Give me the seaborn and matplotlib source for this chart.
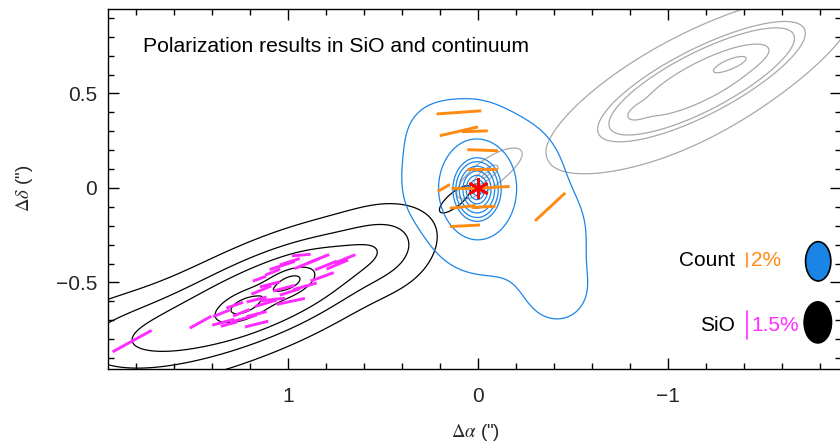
import numpy as np
import pandas as pd
import matplotlib
matplotlib.use("Agg")
import matplotlib.pyplot as plt
import seaborn as sns
from matplotlib.patches import Ellipse
from matplotlib.ticker import MultipleLocator, FixedLocator

# ---------------- data ----------------
# continuum (blue): compact core
core_x = [0.005]
core_y = [-0.01]
core_sa = [0.10]
core_sb = [0.133]
core_pa = [0.0]
core_amp = [1.0]
# continuum extended envelope (blob centres)
env_x = [0.21, 0.02, -0.15, 0.21, 0.21, 0.02, -0.20, 0.05, -0.12, -0.30, -0.36, -0.42,
         -0.25, -0.30, -0.38]
env_y = [0.29, 0.29, 0.20, 0.10, -0.05, 0.08, 0.02, -0.22, -0.28, -0.20, -0.38, -0.55,
         0.12, -0.07, -0.22]
env_sigma = 0.12
env_amp = 0.02
cont_levels = [0.0105, 0.17, 0.49, 0.58, 0.69, 0.80, 0.89, 0.96, 1.01]

# SiO lobe (black contours)
sio_x = [1.24, 0.98, 1.10, 1.95, 0.45, 1.10]
sio_y = [-0.63, -0.49, -0.56, -0.80, -0.32, -0.56]
sio_sa = [0.10, 0.10, 0.50, 0.35, 0.16, 0.70]
sio_sb = [0.05, 0.05, 0.16, 0.17, 0.16, 0.30]
sio_pa = [-23, -23, -23, -10, 0, -23]
sio_amp = [0.30, 0.30, 0.75, 0.30, 0.15, 0.12]
sio_levels = [0.215, 0.405, 0.566, 0.90, 1.09]
# compact SiO knot next to the star
knot_x = [0.12]
knot_y = [-0.06]
knot_sa = [0.085]
knot_sb = [0.03]
knot_pa = [-40]
knot_amp = [0.45]
knot_levels = [0.215]

# SiO second lobe (grey contours)
red_x = [-0.84, -1.36, -1.20, -1.10, -0.035]
red_y = [0.40, 0.67, 0.58, 0.48, 0.065]
red_sa = [0.05, 0.10, 0.50, 0.65, 0.13]
red_sb = [0.025, 0.03, 0.13, 0.30, 0.048]
red_pa = [-27, -20, -27, -30, -38]
red_amp = [0.15, 0.20, 0.70, 0.25, 0.50]
red_levels = [0.234, 0.493, 0.562, 0.757, 1.009]

# continuum polarization vectors (orange): centre, fraction (%), PA (deg)
cpol_x = [0.10, 0.10, 0.016, -0.025, -0.02, 0.18, 0.09, -0.02, -0.11, 0.08, -0.03, 0.068, -0.38]
cpol_y = [0.40, 0.30, 0.30, 0.20, 0.10, 0.0, 0.0, 0.0, 0.005, -0.10, -0.10, -0.20, -0.10]
cpol_p = [6.4, 5.6, 3.7, 4.4, 4.3, 2.0, 2.9, 2.9, 3.1, 3.7, 3.4, 4.3, 5.9]
cpol_pa = [94, 103, 92, 88, 90, 120, 90, 92, 93, 96, 93, 93, 133]
cpol_scale = 0.0368   # arcsec per %

# SiO polarization vectors (magenta)
spol_x = [1.82, 1.46, 1.34, 1.31, 1.28, 1.23, 1.165, 1.117, 1.08, 0.985, 1.14, 1.02,
          1.15, 1.08, 1.03, 0.99, 0.90, 0.84, 0.80, 0.74, 0.82, 0.91, 1.165, 1.245,
          1.095, 0.99, 1.165, 1.35, 0.70, 0.93]
spol_y = [-0.81, -0.71, -0.71, -0.72, -0.62, -0.69, -0.72, -0.61, -0.59, -0.60, -0.54, -0.53,
          -0.48, -0.445, -0.41, -0.39, -0.40, -0.375, -0.41, -0.405, -0.47, -0.52, -0.59, -0.66,
          -0.51, -0.55, -0.667, -0.663, -0.375, -0.355]
spol_p = [2.36, 1.31, 1.21, 0.90, 0.93, 1.38, 1.27, 1.20, 1.32, 1.53, 1.14, 1.19,
          0.75, 0.85, 1.40, 1.11, 1.43, 1.24, 1.24, 1.24, 1.31, 1.29, 1.09, 0.95,
          1.09, 1.11, 1.09, 0.95, 1.2, 1.0]
spol_pa = [119, 119, 105, 105, 109, 105, 104, 107, 96, 102, 113, 105,
           110, 112, 108, 108, 112, 112, 112, 113, 110, 106, 104, 112,
           104, 108, 104, 112, 112, 95]
spol_scale = 0.0995

star_x, star_y = [0.0], [0.0]

# legend items
leg_labels = ["Count", "SiO"]
leg_pct = [2.0, 1.5]
leg_pct_text = ["2%", "1.5%"]
leg_y = [-0.381, -0.725]
beam_x = [-1.791, -1.789]
beam_y = [-0.388, -0.711]
beam_w = [0.133, 0.144]
beam_h = [0.208, 0.217]

title_text = "Polarization results in SiO and continuum"

BLUE = "#1b85e6"
ORANGE = "#ff8a12"
MAGENTA = "#ff2bff"
GREY = "#a8a8a8"

# ---------------- helpers ----------------
def gauss_sum(X, Y, xs, ys, sas, sbs, pas, amps):
    Z = np.zeros_like(X)
    for x0, y0, a, b, pa, amp in zip(xs, ys, sas, sbs, pas, amps):
        t = np.deg2rad(pa)
        dx, dy = X - x0, Y - y0
        u = dx * np.cos(t) + dy * np.sin(t)
        v = -dx * np.sin(t) + dy * np.cos(t)
        Z = Z + amp * np.exp(-0.5 * ((u / a) ** 2 + (v / b) ** 2))
    return Z

def vec_frame(xs, ys, ps, pas, scale):
    rows = []
    for i, (x, y, p, pa) in enumerate(zip(xs, ys, ps, pas)):
        L = p * scale
        dx = 0.5 * L * np.sin(np.deg2rad(pa))
        dy = 0.5 * L * np.cos(np.deg2rad(pa))
        rows.append((i, x - dx, y - dy))
        rows.append((i, x + dx, y + dy))
    return pd.DataFrame(rows, columns=["vec", "x", "y"])

# ---------------- fields ----------------
xg = np.linspace(-2.05, 2.05, 820)
yg = np.linspace(-1.0, 1.0, 400)
X, Y = np.meshgrid(xg, yg)

n_env = len(env_x)
Zc = gauss_sum(X, Y, core_x, core_y, core_sa, core_sb, core_pa, core_amp)
Zc = Zc + gauss_sum(X, Y, env_x, env_y, [env_sigma] * n_env, [env_sigma] * n_env,
                    [0] * n_env, [env_amp] * n_env)
Zs = gauss_sum(X, Y, sio_x, sio_y, sio_sa, sio_sb, sio_pa, sio_amp)
Zk = gauss_sum(X, Y, knot_x, knot_y, knot_sa, knot_sb, knot_pa, knot_amp)
Zr = gauss_sum(X, Y, red_x, red_y, red_sa, red_sb, red_pa, red_amp)

# ---------------- figure ----------------
sns.set_theme(style="ticks")
plt.rcParams["font.family"] = ["Liberation Sans", "DejaVu Sans"]
plt.rcParams["mathtext.fontset"] = "stix"

fig = plt.figure(figsize=(8.4, 4.45), dpi=100)
ax = fig.add_axes([108 / 840, (445 - 368.5) / 445, 733 / 840, 359.5 / 445])

ax.contour(X, Y, Zr, levels=red_levels, colors=GREY, linewidths=0.9)
ax.contour(X, Y, Zs, levels=sio_levels, colors="black", linewidths=0.9)
ax.contour(X, Y, Zk, levels=knot_levels, colors="black", linewidths=0.9)
ax.contour(X, Y, Zc, levels=cont_levels, colors=BLUE, linewidths=0.9)

dfs = vec_frame(spol_x, spol_y, spol_p, spol_pa, spol_scale)
sns.lineplot(data=dfs, x="x", y="y", units="vec", estimator=None, sort=False,
             color=MAGENTA, lw=2.1, ax=ax, solid_capstyle="butt")
dfc = vec_frame(cpol_x, cpol_y, cpol_p, cpol_pa, cpol_scale)
sns.lineplot(data=dfc, x="x", y="y", units="vec", estimator=None, sort=False,
             color=ORANGE, lw=2.1, ax=ax, solid_capstyle="butt")

ax.plot(star_x, star_y, marker=(6, 2, 0), ms=15, mew=2.0, color="red", ls="none")

# legend-like annotations
bar_cols = [ORANGE, MAGENTA]
beam_cols = [BLUE, "black"]
bar_scales = [cpol_scale, spol_scale]
for i in range(2):
    ax.text(-1.353, leg_y[i], leg_labels[i], ha="right", va="center", fontsize=15, color="black")
    half = 0.5 * leg_pct[i] * bar_scales[i]
    ax.plot([-1.416, -1.416], [leg_y[i] - half, leg_y[i] + half], color=bar_cols[i], lw=1.2)
    ax.text(-1.437, leg_y[i], leg_pct_text[i], ha="left", va="center", fontsize=15, color=bar_cols[i])
    ax.add_patch(Ellipse((beam_x[i], beam_y[i]), beam_w[i], beam_h[i],
                         facecolor=beam_cols[i], edgecolor="black", lw=1.2))

ax.text(0.048, 0.897, title_text, transform=ax.transAxes,
        ha="left", va="center", fontsize=15.2, color="black")

ax.set_xlim(1.947, -1.911)
ax.set_ylim(-0.955, 0.947)
ax.xaxis.set_major_locator(FixedLocator([1, 0, -1]))
ax.xaxis.set_minor_locator(MultipleLocator(0.2))
ax.yaxis.set_major_locator(FixedLocator([-0.5, 0, 0.5]))
ax.yaxis.set_minor_locator(MultipleLocator(0.1))
ax.set_xticklabels(["1", "0", "\u22121"])
ax.set_yticklabels(["\u22120.5", "0", "0.5"])
ax.tick_params(which="both", direction="in", top=True, right=True, color="black", width=1.0)
ax.tick_params(which="major", length=8)
ax.tick_params(which="minor", length=4.5)
ax.tick_params(axis="x", labelsize=15, pad=13)
ax.tick_params(axis="y", labelsize=15, pad=8)
for s in ax.spines.values():
    s.set_color("black")
    s.set_linewidth(1.0)

ax.set_xlabel(r'$\Delta\alpha$ (")', fontsize=13.5, va="center")
ax.set_ylabel(r'$\Delta\delta$ (")', fontsize=13.5)
ax.xaxis.set_label_coords(0.501, -0.178)
ax.yaxis.set_label_coords(-0.10, 0.501)

fig.savefig("out.png", dpi=100)
